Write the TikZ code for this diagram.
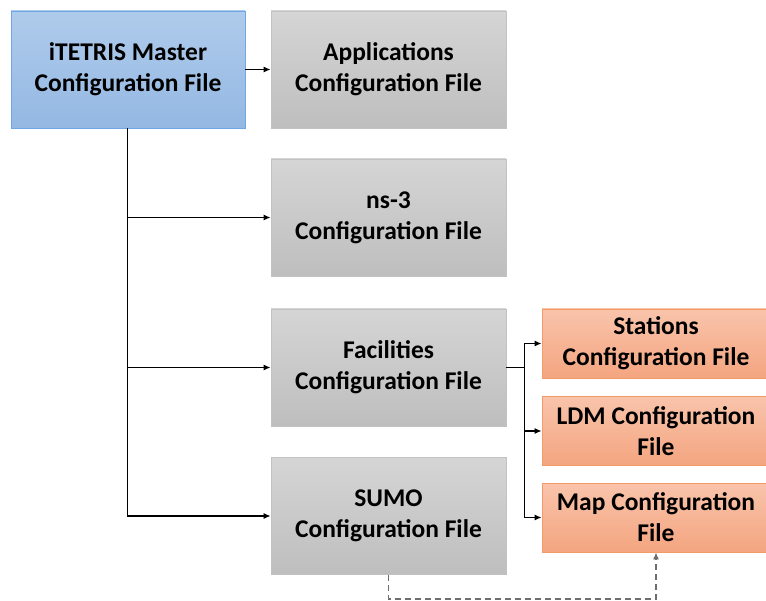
\documentclass[tikz,border=0pt]{standalone}
\usepackage{fontspec}
\setmainfont{Carlito}
\usetikzlibrary{arrows.meta}
\definecolor{bluetop}{HTML}{AFCBEB}
\definecolor{bluebot}{HTML}{94B8E3}
\definecolor{blueedge}{HTML}{6FA6E6}
\definecolor{graytop}{HTML}{D5D5D5}
\definecolor{graybot}{HTML}{BEBEBE}
\definecolor{grayedge}{HTML}{C2C2C2}
\definecolor{orangetop}{HTML}{F9C4AB}
\definecolor{orangebot}{HTML}{F4A580}
\definecolor{orangeedge}{HTML}{F39A68}
\definecolor{dashgray}{HTML}{6E6E6E}
\tikzset{
  boxtext/.style={font=\bfseries\fontsize{25.5}{31}\selectfont, text=black, align=center, inner sep=0pt,
    execute at begin node={\rule{0pt}{23pt}}},
  bluebox/.style={boxtext, draw=blueedge, line width=0.9pt, top color=bluetop, bottom color=bluebot, minimum width=234pt, minimum height=117pt},
  graybox/.style={boxtext, draw=grayedge, line width=0.9pt, top color=graytop, bottom color=graybot, minimum width=235pt, minimum height=117pt},
  orangebox/.style={boxtext, draw=orangeedge, line width=0.9pt, top color=orangetop, bottom color=orangebot, minimum width=228pt, minimum height=69pt},
  arr/.style={draw=black, line width=1.1pt, -{Latex[length=7pt,width=6pt]}},
  plainline/.style={draw=black, line width=1.1pt},
  dasharr/.style={draw=dashgray, line width=1.1pt, dash pattern=on 6pt off 4pt, -{Latex[length=7pt,width=6pt]}}
}
\begin{document}
\begin{tikzpicture}[x=1pt,y=-1pt]
\useasboundingbox (0,0) rectangle (766,601);
\node[bluebox] (master) at (128,69.5) {iTETRIS Master\\Configuration File};
\node[graybox] (apps) at (388.5,69.5) {Applications\\Configuration File};
\node[graybox] (ns3) at (388.5,217.5) {ns-3\\Configuration File};
\node[graybox] (fac) at (388.5,367.5) {Facilities\\Configuration File};
\node[graybox] (sumo) at (388.5,516) {SUMO\\Configuration File};
\node[orangebox] (stations) at (656,343.5) {Stations\\Configuration File};
\node[orangebox] (ldm) at (656,431) {LDM Configuration\\File};
\node[orangebox] (map) at (656,517.5) {Map Configuration\\File};
\coordinate (trunk) at ([xshift=-0.5pt]master.south);
\draw[arr] (master.east) -- (apps.west);
\draw[arr] (trunk) |- (sumo.west);
\draw[arr] (trunk |- ns3.west) -- (ns3.west);
\draw[arr] (trunk |- fac.west) -- (fac.west);
\draw[plainline] (fac.east) -- ++(18,0) coordinate (junc);
\draw[arr] (junc |- stations.west) |- (map.west);
\draw[arr] (junc |- ldm.west) -- (ldm.west);
\draw[arr] (junc |- stations.west) -- (stations.west);
\draw[dasharr] (sumo.south) -- ++(0,24) -| (map.south);
\end{tikzpicture}
\end{document}
